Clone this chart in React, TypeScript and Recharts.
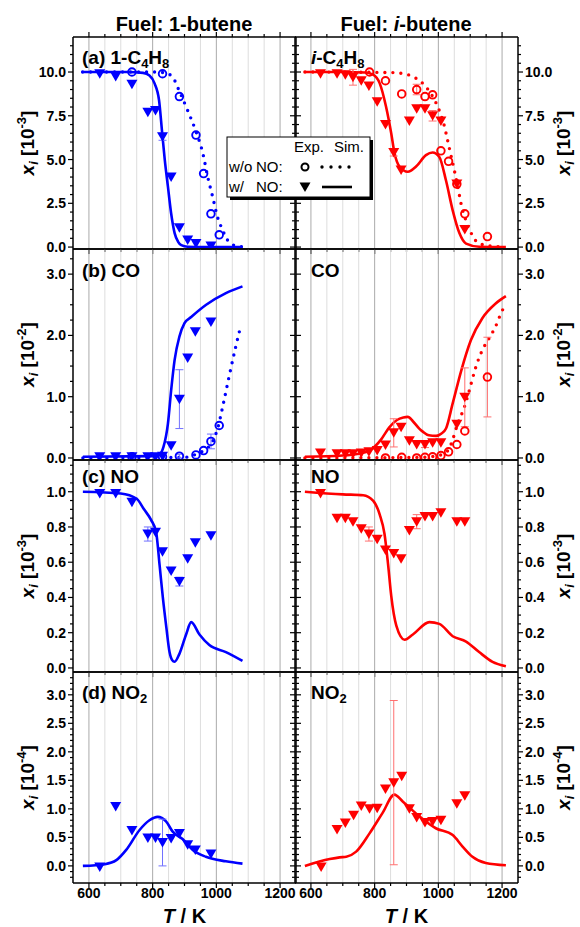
import React from "react";
import {
  ComposedChart,
  Line,
  Scatter,
  XAxis,
  YAxis,
  CartesianGrid,
  ErrorBar,
} from "recharts";

// [T in K, value, optional error]
type Pt = [number, number, number?];

const BLUE = "#0000ff";
const RED = "#ff0000";
const FONT = "'Liberation Sans', Arial, Helvetica, sans-serif";

// temperature axis
const tempTicks = [600, 650, 700, 750, 800, 850, 900, 950, 1000, 1050, 1100, 1150, 1200];
const tempLabels = [600, 800, 1000, 1200];

// y tick labels per row
const fuelTicks = [0, 2.5, 5, 7.5, 10];
const coTicks = [0, 1, 2, 3];
const noTicks = [0, 0.2, 0.4, 0.6, 0.8, 1.0];
const no2Ticks = [0, 0.5, 1, 1.5, 2, 2.5, 3];

// (a) fuel mole fraction [1e-3], 1-butene
const a1ExpNO: Pt[] = [[634, 9.9], [684, 9.75], [735, 9.3], [785, 7.7], [809, 7.8], [831, 6.3, 0.2], [858, 4.0], [884, 1.1], [910, 0.4], [936, 0.2], [983, 0.06]];
const a1ExpNoNO: Pt[] = [[735, 10.0], [831, 9.9], [884, 8.6], [936, 6.4], [960, 4.2], [983, 1.9], [1009, 0.7]];
const a1SimNO: Pt[] = [[580, 10], [720, 10], [770, 9.95], [790, 9.8], [806, 9.35], [820, 8.4], [830, 6.5], [838, 5.0], [848, 3.45], [858, 1.93], [869, 0.8], [880, 0.3], [890, 0.11], [910, 0.02], [960, 0], [1082, 0]];
const a1SimNoNO: Pt[] = [[580, 10], [800, 10], [840, 9.95], [863, 9.7], [884, 8.9], [910, 7.8], [936, 6.6], [957, 5.4], [973, 4.0], [988, 2.9], [1004, 1.7], [1019, 1.0], [1035, 0.4], [1056, 0.1], [1082, 0.02]];

// (a) fuel mole fraction [1e-3], i-butene
const a2ExpNO: Pt[] = [[630, 9.9], [682, 9.9], [708, 9.85], [732, 9.7, 0.45], [758, 9.5], [782, 9.2], [808, 8.3], [834, 7.0], [860, 5.4, 0.2], [883, 4.4], [909, 7.2], [932, 7.9], [958, 7.9], [982, 7.5, 0.3], [1008, 7.2], [1058, 3.6], [1083, 1.0]];
const a2ExpNoNO: Pt[] = [[784, 10.0], [834, 9.5], [885, 8.75], [932, 9.0, 0.3], [958, 8.6], [982, 8.7], [1008, 5.5], [1032, 4.9], [1058, 3.6], [1083, 1.9], [1154, 0.6]];
const a2SimNO: Pt[] = [[581, 10], [700, 10], [770, 9.97], [795, 9.85], [816, 9.35], [836, 8.0], [852, 6.5], [862, 5.4], [878, 4.6], [904, 4.3], [930, 4.6], [961, 5.25], [982, 5.4], [1003, 5.15], [1024, 3.8], [1045, 2.1], [1066, 0.8], [1087, 0.2], [1128, 0.02], [1212, 0]];
const a2SimNoNO: Pt[] = [[581, 10], [850, 9.97], [904, 9.85], [930, 9.64], [956, 9.26], [982, 8.6], [1003, 7.8], [1019, 6.9], [1029, 6.1], [1040, 5.2], [1050, 4.4], [1061, 3.45], [1071, 2.5], [1087, 1.5], [1103, 0.8], [1128, 0.2], [1170, 0.05], [1212, 0]];

// (b) CO [1e-2]
const b1ExpNO: Pt[] = [[634, 0.02], [684, 0.02], [735, 0.02], [785, 0.02], [809, 0.02], [831, 0.03], [858, 0.2], [884, 0.96, 0.48], [910, 1.63], [934, 2.06], [983, 2.22]];
const b1ExpNoNO: Pt[] = [[735, 0.02], [831, 0.02], [884, 0.03, 0.03], [936, 0.05], [960, 0.12], [983, 0.27, 0.12], [1009, 0.53]];
const b1SimNO: Pt[] = [[581, 0.02], [800, 0.03], [822, 0.06], [834, 0.18], [848, 0.56], [858, 1.1], [869, 1.6], [884, 1.98], [900, 2.2], [921, 2.3], [968, 2.5], [1030, 2.69], [1082, 2.8]];
const b1SimNoNO: Pt[] = [[581, 0.0], [900, 0.01], [936, 0.06], [960, 0.12], [988, 0.27], [1005, 0.5], [1020, 0.84], [1040, 1.33], [1061, 1.82], [1074, 2.1]];

const b2ExpNO: Pt[] = [[630, 0.08], [682, 0.07], [708, 0.07], [732, 0.07], [758, 0.08], [782, 0.1], [808, 0.12], [834, 0.21], [860, 0.41, 0.23], [883, 0.5], [909, 0.28], [932, 0.22], [958, 0.22, 0.05], [982, 0.25], [1008, 0.25], [1058, 0.55], [1083, 0.99, 0.48]];
const b2ExpNoNO: Pt[] = [[834, 0.0], [885, 0.01], [932, 0.0], [958, 0.01], [982, 0.02], [1008, 0.04], [1032, 0.1], [1058, 0.22], [1083, 0.44], [1154, 1.32, 0.65]];
const b2SimNO: Pt[] = [[581, 0.02], [700, 0.04], [750, 0.07], [784, 0.12], [820, 0.3], [846, 0.5], [870, 0.62], [890, 0.66], [904, 0.67], [920, 0.6], [940, 0.48], [951, 0.43], [970, 0.37], [993, 0.36], [1010, 0.4], [1024, 0.48], [1045, 0.89], [1071, 1.41], [1102, 1.92], [1138, 2.28], [1180, 2.52], [1212, 2.64]];
const b2SimNoNO: Pt[] = [[581, 0.0], [950, 0.01], [1000, 0.04], [1030, 0.12], [1045, 0.3], [1060, 0.55], [1081, 0.82], [1097, 1.1], [1118, 1.49], [1138, 1.76], [1159, 1.95], [1180, 2.15], [1200, 2.4], [1212, 2.5]];

// (c) NO [1e-3]
const c1ExpNO: Pt[] = [[634, 0.99], [684, 0.99], [735, 0.94], [785, 0.76, 0.04], [809, 0.77], [831, 0.66], [858, 0.55], [884, 0.49, 0.025], [910, 0.62], [934, 0.71], [983, 0.75]];
const c1SimNO: Pt[] = [[581, 1.0], [700, 0.99], [750, 0.96], [773, 0.9], [795, 0.84], [811, 0.77], [822, 0.58], [832, 0.4], [843, 0.23], [853, 0.09], [861, 0.045], [869, 0.035], [884, 0.08], [905, 0.19], [921, 0.26], [947, 0.19], [978, 0.13], [1030, 0.09], [1082, 0.04]];
const c2ExpNO: Pt[] = [[630, 0.99], [682, 0.85], [708, 0.85], [732, 0.83], [758, 0.79], [782, 0.76, 0.04], [808, 0.73], [834, 0.67], [860, 0.65], [883, 0.62], [909, 0.78], [932, 0.83, 0.04], [958, 0.86], [982, 0.86], [1008, 0.88], [1058, 0.83], [1083, 0.83]];
const c2SimNO: Pt[] = [[581, 1.0], [700, 0.985], [764, 0.98], [795, 0.95], [816, 0.87], [831, 0.76], [842, 0.59], [852, 0.41], [868, 0.24], [894, 0.16], [920, 0.19], [972, 0.26], [1003, 0.25], [1045, 0.18], [1087, 0.15], [1128, 0.09], [1170, 0.035], [1212, 0.01]];

// (d) NO2 [1e-4]
const d1ExpNO: Pt[] = [[634, -0.02], [684, 1.04], [735, 0.62], [785, 0.49], [809, 0.49], [831, 0.41, 0.41], [858, 0.48], [884, 0.57], [910, 0.37], [934, 0.28], [983, 0.21]];
const d1SimNO: Pt[] = [[581, 0.0], [650, 0.03], [686, 0.1], [717, 0.28], [759, 0.63], [790, 0.8], [816, 0.86], [842, 0.78], [863, 0.6], [894, 0.47], [926, 0.28], [967, 0.16], [1030, 0.08], [1082, 0.04]];
const d2ExpNO: Pt[] = [[632, -0.02], [682, 0.64], [708, 0.75], [734, 0.89], [758, 1.05], [784, 1.0], [808, 1.01], [834, 1.35], [860, 1.46, 1.44], [885, 1.57], [909, 1.0], [932, 0.85], [958, 0.76], [982, 0.78], [1008, 0.8], [1058, 1.09], [1083, 1.23]];
const d2SimNO: Pt[] = [[581, 0.0], [659, 0.12], [690, 0.15], [711, 0.16], [742, 0.25], [784, 0.57], [825, 0.93], [862, 1.25], [888, 1.13], [940, 0.87], [992, 0.66], [1045, 0.54], [1076, 0.34], [1107, 0.16], [1149, 0.05], [1212, 0.01]];

// layout of the 4x2 grid of plot areas
const COL_X = [73, 295];
const PLOT_W = 223;
const ROW_Y = [37, 249, 460, 672];
const ROW_H = [212, 211, 212, 211];

type PanelDef = {
  row: number;
  col: number;
  color: string;
  domain: [number, number];
  major: number[];
  minorStep: number;
  simNO: Pt[];
  simNoNO?: Pt[];
  expNO: Pt[];
  expNoNO?: Pt[];
};

const panels: PanelDef[] = [
  { row: 0, col: 0, color: BLUE, domain: [-0.11, 12], major: fuelTicks, minorStep: 0.5, simNO: a1SimNO, simNoNO: a1SimNoNO, expNO: a1ExpNO, expNoNO: a1ExpNoNO },
  { row: 0, col: 1, color: RED, domain: [-0.11, 12], major: fuelTicks, minorStep: 0.5, simNO: a2SimNO, simNoNO: a2SimNoNO, expNO: a2ExpNO, expNoNO: a2ExpNoNO },
  { row: 1, col: 0, color: BLUE, domain: [-0.033, 3.41], major: coTicks, minorStep: 0.25, simNO: b1SimNO, simNoNO: b1SimNoNO, expNO: b1ExpNO, expNoNO: b1ExpNoNO },
  { row: 1, col: 1, color: RED, domain: [-0.033, 3.41], major: coTicks, minorStep: 0.25, simNO: b2SimNO, simNoNO: b2SimNoNO, expNO: b2ExpNO, expNoNO: b2ExpNoNO },
  { row: 2, col: 0, color: BLUE, domain: [-0.023, 1.18], major: noTicks, minorStep: 0.05, simNO: c1SimNO, expNO: c1ExpNO },
  { row: 2, col: 1, color: RED, domain: [-0.023, 1.18], major: noTicks, minorStep: 0.05, simNO: c2SimNO, expNO: c2ExpNO },
  { row: 3, col: 0, color: BLUE, domain: [-0.3, 3.4], major: no2Ticks, minorStep: 0.1, simNO: d1SimNO, expNO: d1ExpNO },
  { row: 3, col: 1, color: RED, domain: [-0.3, 3.4], major: no2Ticks, minorStep: 0.1, simNO: d2SimNO, expNO: d2ExpNO },
];

const toRows = (arr: Pt[]) =>
  arr.map(([T, v, e]) => (e === undefined ? { T, v } : { T, v, e }));

// minor tick positions inside the axis range
const tickSteps = (lo: number, hi: number, step: number) => {
  const out: number[] = [];
  for (let k = Math.ceil(lo / step); k * step <= hi + 1e-9; k++) {
    const v = +(k * step).toFixed(4);
    if (v > lo + 1e-6 && v < hi - 1e-6) out.push(v);
  }
  return out;
};

const isIn = (list: number[], v: number) => list.some((m) => Math.abs(m - v) < 1e-6);

const yTick = (side: "left" | "right", labelled: boolean, major: number[]) => (p: any) => {
  const v = p.payload.value;
  const big = isIn(major, v);
  const d = side === "left" ? -1 : 1;
  return (
    <g>
      <line x1={p.x} x2={p.x + d * (big ? 5 : 3)} y1={p.y} y2={p.y} stroke="#000" strokeWidth={1.2} />
      {labelled && big && (
        <text
          x={p.x + d * 7}
          y={p.y + 5}
          textAnchor={side === "left" ? "end" : "start"}
          fontFamily={FONT}
          fontWeight="bold"
          fontSize={14}
          fill="#000"
        >
          {v.toFixed(1)}
        </text>
      )}
    </g>
  );
};

const xTick = (dir: 1 | -1, labelled: boolean) => (p: any) => {
  const v = p.payload.value;
  const big = tempLabels.includes(v);
  return (
    <g>
      <line x1={p.x} x2={p.x} y1={p.y} y2={p.y + dir * (big ? 5 : 3)} stroke="#000" strokeWidth={1.2} />
      {labelled && big && (
        <text x={p.x} y={p.y + 15} textAnchor="middle" fontFamily={FONT} fontWeight="bold" fontSize={14} fill="#000">
          {v}
        </text>
      )}
    </g>
  );
};

const triangle = (color: string) => (p: any) => (
  <path d={`M${p.cx - 5.5},${p.cy - 4.5}L${p.cx + 5.5},${p.cy - 4.5}L${p.cx},${p.cy + 5}Z`} fill={color} />
);

const ring = (color: string) => (p: any) => (
  <circle cx={p.cx} cy={p.cy} r={3.8} fill="none" stroke={color} strokeWidth={1.9} />
);

const axisLine = { stroke: "#000", strokeWidth: 1.5 };

function Panel({ def }: { def: PanelDef }) {
  const left = def.col === 0;
  const extL = left ? 73 : 20;
  const extR = left ? 20 : 62;
  const h = ROW_H[def.row];
  const yTicks = tickSteps(def.domain[0], def.domain[1], def.minorStep);
  const errColor = def.color === BLUE ? "#7070ff" : "#ff7070";
  return (
    <div style={{ position: "absolute", left: COL_X[def.col] - extL, top: ROW_Y[def.row] - 20 }}>
      <ComposedChart
        width={extL + PLOT_W + extR}
        height={20 + h + 30}
        margin={{ top: 10, right: extR - 20, bottom: 20, left: extL - 20 }}
      >
        <CartesianGrid
          xAxisId="b"
          yAxisId="l"
          horizontal={false}
          verticalValues={tempTicks.filter((t) => !tempLabels.includes(t))}
          stroke="#dddddd"
        />
        <CartesianGrid xAxisId="b" yAxisId="l" horizontal={false} verticalValues={tempLabels} stroke="#aaaaaa" />
        <XAxis
          xAxisId="b"
          type="number"
          dataKey="T"
          domain={[550, 1250]}
          allowDataOverflow
          ticks={tempTicks}
          interval={0}
          height={10}
          tickSize={0}
          tickMargin={0}
          tickLine={false}
          axisLine={axisLine}
          tick={xTick(1, def.row === 3)}
        />
        <XAxis
          xAxisId="t"
          orientation="top"
          type="number"
          dataKey="T"
          domain={[550, 1250]}
          allowDataOverflow
          ticks={tempTicks}
          interval={0}
          height={10}
          tickSize={0}
          tickMargin={0}
          tickLine={false}
          axisLine={axisLine}
          tick={def.row === 0 ? xTick(-1, false) : false}
        />
        <YAxis
          yAxisId="l"
          type="number"
          domain={def.domain}
          allowDataOverflow
          ticks={yTicks}
          interval={0}
          width={20}
          tickSize={0}
          tickMargin={0}
          tickLine={false}
          axisLine={axisLine}
          tick={yTick("left", left, def.major)}
        />
        <YAxis
          yAxisId="r"
          orientation="right"
          type="number"
          domain={def.domain}
          allowDataOverflow
          ticks={yTicks}
          interval={0}
          width={20}
          tickSize={0}
          tickMargin={0}
          tickLine={false}
          axisLine={axisLine}
          tick={yTick("right", !left, def.major)}
        />
        {def.simNoNO && (
          <Line
            xAxisId="b"
            yAxisId="l"
            data={toRows(def.simNoNO)}
            dataKey="v"
            type="monotone"
            stroke={def.color}
            strokeWidth={3.4}
            strokeDasharray="0 8"
            strokeLinecap="round"
            dot={false}
            isAnimationActive={false}
          />
        )}
        <Line
          xAxisId="b"
          yAxisId="l"
          data={toRows(def.simNO)}
          dataKey="v"
          type="monotone"
          stroke={def.color}
          strokeWidth={2.6}
          dot={false}
          isAnimationActive={false}
        />
        {def.expNoNO && (
          <Scatter
            xAxisId="b"
            yAxisId="l"
            data={toRows(def.expNoNO)}
            dataKey="v"
            shape={ring(def.color)}
            isAnimationActive={false}
          >
            <ErrorBar dataKey="e" direction="y" width={4} stroke={errColor} strokeWidth={1} isAnimationActive={false} />
          </Scatter>
        )}
        <Scatter
          xAxisId="b"
          yAxisId="l"
          data={toRows(def.expNO)}
          dataKey="v"
          shape={triangle(def.color)}
          isAnimationActive={false}
        >
          <ErrorBar dataKey="e" direction="y" width={4} stroke={errColor} strokeWidth={1} isAnimationActive={false} />
        </Scatter>
      </ComposedChart>
    </div>
  );
}

function YLabel({ x, y, exp }: { x: number; y: number; exp: string }) {
  return (
    <text transform={`translate(${x},${y}) rotate(-90)`} textAnchor="middle" fontFamily={FONT} fontWeight="bold" fontSize={19}>
      <tspan fontStyle="italic">x</tspan>
      <tspan fontStyle="italic" fontSize={13} dy={4}>i</tspan>
      <tspan dy={-4}> [10</tspan>
      <tspan fontSize={13} dy={-8}>{exp}</tspan>
      <tspan dy={8}>]</tspan>
    </text>
  );
}

const rowMid = (r: number) => ROW_Y[r] + ROW_H[r] / 2;
const yExps = ["-3", "-2", "-3", "-4"];

function Overlay() {
  const t = { fontFamily: FONT, fontWeight: "bold" as const, fill: "#000" };
  return (
    <svg width={580} height={927} style={{ position: "absolute", left: 0, top: 0, pointerEvents: "none" }}>
      <text x={184} y={31} textAnchor="middle" fontSize={20} {...t}>Fuel: 1-butene</text>
      <text x={406} y={31} textAnchor="middle" fontSize={20} {...t}>
        Fuel: <tspan fontStyle="italic">i</tspan>-butene
      </text>

      <text x={82} y={64} fontSize={19} {...t}>
        (a) 1-C<tspan fontSize={13} dy={4}>4</tspan><tspan dy={-4}>H</tspan><tspan fontSize={13} dy={4}>8</tspan>
      </text>
      <text x={311} y={64} fontSize={19} {...t}>
        <tspan fontStyle="italic">i</tspan>-C<tspan fontSize={13} dy={4}>4</tspan><tspan dy={-4}>H</tspan><tspan fontSize={13} dy={4}>8</tspan>
      </text>
      <text x={82} y={277} fontSize={19} {...t}>(b) CO</text>
      <text x={311} y={277} fontSize={19} {...t}>CO</text>
      <text x={82} y={483} fontSize={19} {...t}>(c) NO</text>
      <text x={311} y={483} fontSize={19} {...t}>NO</text>
      <text x={82} y={699} fontSize={19} {...t}>
        (d) NO<tspan fontSize={13} dy={4}>2</tspan>
      </text>
      <text x={311} y={699} fontSize={19} {...t}>
        NO<tspan fontSize={13} dy={4}>2</tspan>
      </text>

      {yExps.map((e, r) => (
        <g key={r}>
          <YLabel x={34} y={rowMid(r)} exp={e} />
          <YLabel x={570} y={rowMid(r)} exp={e} />
        </g>
      ))}

      <text x={184.5} y={923} textAnchor="middle" fontSize={20} {...t}>
        <tspan fontStyle="italic">T</tspan> / K
      </text>
      <text x={406.5} y={923} textAnchor="middle" fontSize={20} {...t}>
        <tspan fontStyle="italic">T</tspan> / K
      </text>

      {/* legend */}
      <rect x={230} y={140} width={143} height={60} fill="#000" />
      <rect x={227} y={137} width={143} height={60} fill="#fff" stroke="#000" strokeWidth={1} />
      <g fontFamily={FONT} fontSize={15} fill="#000">
        <text x={294} y={152}>Exp.</text>
        <text x={334} y={152}>Sim.</text>
        <text x={229} y={172}>w/o</text>
        <text x={256} y={172}>NO:</text>
        <text x={229} y={192}>w/</text>
        <text x={256} y={192}>NO:</text>
      </g>
      <circle cx={305} cy={167} r={3.5} fill="none" stroke="#000" strokeWidth={2} />
      <line x1={322} x2={350} y1={167} y2={167} stroke="#000" strokeWidth={3.4} strokeDasharray="0 9" strokeLinecap="round" />
      <path d="M299.5,182.5L310.5,182.5L305,192Z" fill="#000" />
      <line x1={322} x2={352} y1={187} y2={187} stroke="#000" strokeWidth={2.6} />
    </svg>
  );
}

export default function App() {
  return (
    <div
      style={{
        position: "absolute",
        left: 0,
        top: 0,
        width: 580,
        height: 927,
        overflow: "hidden",
        background: "#fff",
      }}
    >
      {panels.map((p) => (
        <Panel key={`${p.row}-${p.col}`} def={p} />
      ))}
      <Overlay />
    </div>
  );
}
